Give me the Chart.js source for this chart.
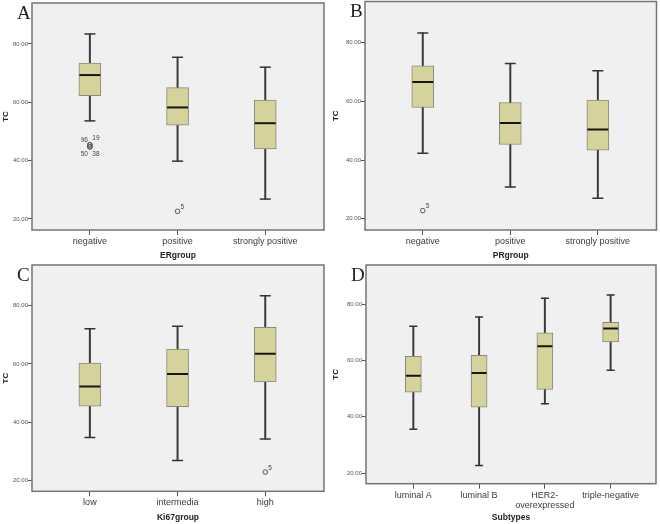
<!DOCTYPE html>
<html>
<head>
<meta charset="utf-8">
<script src="https://cdn.jsdelivr.net/npm/chart.js@4.4.1/dist/chart.umd.min.js"></script>
<style>
  body { margin: 0; background: #fff; }
  #wrap { position: relative; width: 660px; height: 524px; }
  #wrap canvas { position: absolute; }
</style>
</head>
<body>
<div id="wrap">
  <canvas id="chartA" width="330" height="262" style="left:0;top:0"></canvas>
  <canvas id="chartB" width="330" height="262" style="left:330px;top:0"></canvas>
  <canvas id="chartC" width="330" height="262" style="left:0;top:262px"></canvas>
  <canvas id="chartD" width="330" height="262" style="left:330px;top:262px"></canvas>
</div>
<script>
// y axis ticks shared by all panels
const yTicks = [20, 40, 60, 80];

// A - ER group
const erLabels = ['negative', 'positive', 'strongly positive'];
const erLow = [53.6, 39.8, 26.8];
const erQ1 = [62.2, 52.1, 44.0];
const erMedian = [69.3, 58.2, 52.8];
const erQ3 = [73.4, 65.0, 60.7];
const erHigh = [83.4, 75.4, 72.0];
const erOutX = [0, 0, 0, 0, 1];
const erOutY = [45.4, 45.4, 44.7, 44.7, 22.6];
const erOutId = ['96', '19', '50', '38', '5'];

// B - PR group
const prLabels = ['negative', 'positive', 'strongly positive'];
const prLow = [42.3, 30.8, 27.0];
const prQ1 = [57.9, 45.3, 43.4];
const prMedian = [66.6, 52.6, 50.4];
const prQ3 = [72.1, 59.6, 60.4];
const prHigh = [83.3, 72.9, 70.4];
const prOutX = [0];
const prOutY = [22.8];
const prOutId = ['5'];

// C - Ki67 group
const kiLabels = ['low', 'intermedia', 'high'];
const kiLow = [34.7, 26.8, 34.2];
const kiQ1 = [45.5, 45.3, 53.8];
const kiMedian = [52.2, 56.5, 63.5];
const kiQ3 = [60.3, 65.1, 72.6];
const kiHigh = [72.1, 72.9, 83.4];
const kiOutX = [2];
const kiOutY = [22.8];
const kiOutId = ['5'];

// D - Subtypes
const stLabels = ['luminal A', 'luminal B', 'HER2-\noverexpressed', 'triple-negative'];
const stLow = [35.6, 22.7, 44.6, 56.6];
const stQ1 = [48.8, 43.4, 49.7, 66.6];
const stMedian = [54.6, 55.6, 65.1, 71.4];
const stQ3 = [61.5, 61.9, 69.9, 73.6];
const stHigh = [72.2, 75.5, 82.2, 83.3];

// fond gris + cadre autour de la zone de tracé
const framePlugin = {
  id: 'frame',
  beforeDraw(chart) {
    const a = chart.chartArea, ctx = chart.ctx;
    ctx.save();
    ctx.fillStyle = '#f0f0f0';
    ctx.fillRect(a.left, a.top, a.right - a.left, a.bottom - a.top);
    ctx.restore();
  },
  afterDraw(chart) {
    const a = chart.chartArea, ctx = chart.ctx;
    ctx.save();
    ctx.strokeStyle = '#747474';
    ctx.lineWidth = 1.5;
    ctx.strokeRect(a.left, a.top, a.right - a.left, a.bottom - a.top);
    // lettre du panneau
    const letter = chart.options.plugins.frame.letter;
    ctx.fillStyle = '#222';
    ctx.font = '19px "Liberation Serif"';
    ctx.textBaseline = 'alphabetic';
    ctx.fillText(letter, a.left - 15, a.top + 15.5);
    ctx.restore();
  }
};

// numéros des valeurs aberrantes
const outlierLabelPlugin = {
  id: 'outlierLabels',
  afterDatasetsDraw(chart) {
    const ctx = chart.ctx;
    chart.data.datasets.forEach((ds, di) => {
      if (!ds.outlierIds) return;
      const meta = chart.getDatasetMeta(di);
      const groups = {};
      ctx.save();
      ctx.fillStyle = '#444';
      ctx.font = '6.5px "Liberation Sans"';
      ctx.textBaseline = 'middle';
      meta.data.forEach((pt, i) => {
        const key = ds.data[i].x;
        const k = groups[key] = (groups[key] === undefined ? 0 : groups[key] + 1);
        const n = ds.data.filter(d => d.x === key).length;
        const id = ds.outlierIds[i];
        if (n === 1) {
          ctx.textAlign = 'left';
          ctx.fillText(id, pt.x + 3, pt.y - 4);
        } else {
          const left = k % 2 === 0;
          const upper = k < 2;
          ctx.textAlign = left ? 'right' : 'left';
          ctx.fillText(id, pt.x + (left ? -2 : 2.5), pt.y + (upper ? (left ? -5 : -7) : 7));
        }
      });
      ctx.restore();
    });
  }
};

function makePanel(canvasId, p) {
  const idx = p.labels.map((_, i) => i);
  const datasets = [
    {
      type: 'bar', order: 5, grouped: false,
      data: idx.map(i => ({ x: i, y: [p.low[i], p.high[i]] })),
      backgroundColor: '#383838', borderWidth: 0, barThickness: 1.3
    },
    {
      type: 'bar', order: 4, grouped: false,
      data: idx.map(i => ({ x: i, y: [p.q1[i], p.q3[i]] })),
      backgroundColor: '#d6d29c', borderColor: '#8a8a78', borderWidth: 1,
      borderSkipped: false, barThickness: p.boxWidth
    },
    {
      type: 'scatter', order: 3,
      data: idx.map(i => ({ x: i, y: p.low[i] })).concat(idx.map(i => ({ x: i, y: p.high[i] }))),
      pointStyle: 'line', radius: p.capRadius, borderWidth: 1.5, borderColor: '#333'
    },
    {
      type: 'scatter', order: 2,
      data: idx.map(i => ({ x: i, y: p.median[i] })),
      pointStyle: 'line', radius: p.boxWidth / 2 - 0.5, borderWidth: 2, borderColor: '#151515'
    }
  ];
  if (p.outX) {
    datasets.push({
      type: 'scatter', order: 1,
      data: p.outX.map((x, i) => ({ x: x, y: p.outY[i] })),
      outlierIds: p.outId,
      pointStyle: 'circle', radius: 2.3, borderWidth: 1,
      borderColor: '#555', backgroundColor: 'rgba(0,0,0,0)'
    });
  }

  return new Chart(document.getElementById(canvasId), {
    type: 'bar',
    data: { datasets: datasets },
    plugins: [framePlugin, outlierLabelPlugin],
    options: {
      responsive: false,
      animation: false,
      events: [],
      layout: { autoPadding: false, padding: { top: p.padTop, right: p.padRight, left: 0, bottom: 0 } },
      plugins: {
        legend: { display: false },
        tooltip: { enabled: false },
        frame: { letter: p.letter }
      },
      scales: {
        x: {
          type: 'linear',
          offset: false,
          min: p.xMin, max: p.xMax,
          afterBuildTicks: (s) => { s.ticks = idx.map(v => ({ value: v })); },
          afterFit: (s) => { s.height = p.xHeight; s.paddingLeft = 0; s.paddingRight = 0; },
          border: { display: false },
          grid: { offset: false, drawOnChartArea: false, drawTicks: true, tickLength: 5, color: '#555' },
          ticks: {
            autoSkip: false, maxRotation: 0, padding: 1,
            color: '#3a3a3a', font: { family: 'Liberation Sans', size: 9 },
            callback: (v) => p.labels[v].split('\n')
          },
          title: {
            display: true, text: p.xTitle, color: '#222',
            font: { family: 'Liberation Sans', size: 8.5, weight: 'bold' },
            padding: { top: 0, bottom: 1 }
          }
        },
        y: {
          min: 16.2, max: 94,
          afterBuildTicks: (s) => { s.ticks = yTicks.map(v => ({ value: v })); },
          afterFit: (s) => { s.width = p.yWidth; s.paddingTop = 0; s.paddingBottom = 0; },
          border: { display: false },
          grid: { drawOnChartArea: false, drawTicks: true, tickLength: 4, color: '#555' },
          ticks: {
            padding: 0, color: '#555',
            font: { family: 'Liberation Sans', size: 6 },
            callback: (v) => v.toFixed(2)
          },
          title: {
            display: true, text: 'TC', color: '#222',
            font: { family: 'Liberation Sans', size: 8, weight: 'bold' },
            padding: { top: 1, bottom: 0 }
          }
        }
      }
    }
  });
}

makePanel('chartA', {
  letter: 'A', labels: erLabels, low: erLow, q1: erQ1, median: erMedian, q3: erQ3, high: erHigh,
  outX: erOutX, outY: erOutY, outId: erOutId, xTitle: 'ERgroup',
  xMin: -0.66, xMax: 2.67, boxWidth: 22, capRadius: 5.5,
  yWidth: 32, xHeight: 32, padTop: 3, padRight: 6
});
makePanel('chartB', {
  letter: 'B', labels: prLabels, low: prLow, q1: prQ1, median: prMedian, q3: prQ3, high: prHigh,
  outX: prOutX, outY: prOutY, outId: prOutId, xTitle: 'PRgroup',
  xMin: -0.66, xMax: 2.67, boxWidth: 22, capRadius: 5.5,
  yWidth: 35, xHeight: 32, padTop: 1.5, padRight: 3.5
});
makePanel('chartC', {
  letter: 'C', labels: kiLabels, low: kiLow, q1: kiQ1, median: kiMedian, q3: kiQ3, high: kiHigh,
  outX: kiOutX, outY: kiOutY, outId: kiOutId, xTitle: 'Ki67group',
  xMin: -0.66, xMax: 2.67, boxWidth: 22, capRadius: 5.5,
  yWidth: 32, xHeight: 32.7, padTop: 3, padRight: 6
});
makePanel('chartD', {
  letter: 'D', labels: stLabels, low: stLow, q1: stQ1, median: stMedian, q3: stQ3, high: stHigh,
  xTitle: 'Subtypes',
  xMin: -0.72, xMax: 3.69, boxWidth: 16, capRadius: 4,
  yWidth: 36, xHeight: 40.3, padTop: 3, padRight: 4
});
</script>
</body>
</html>
